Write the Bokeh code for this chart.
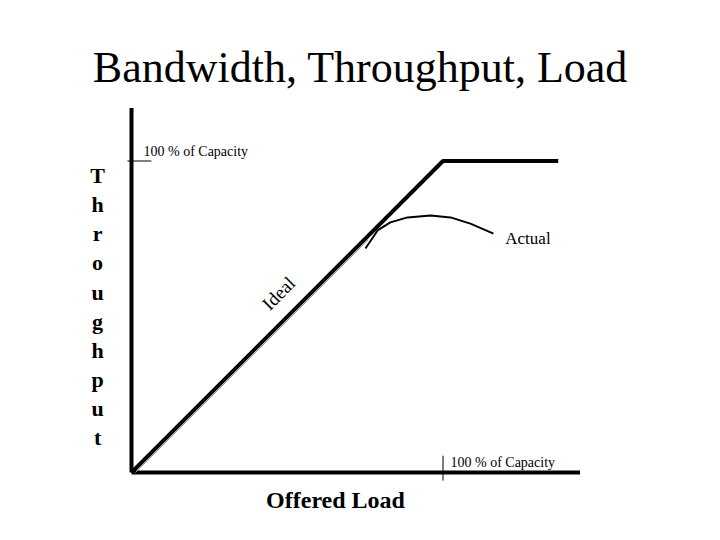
from bokeh.plotting import figure
from bokeh.models import Range1d
from bokeh.core.properties import value
from bokeh.embed import file_html
from bokeh.resources import INLINE

# ---- data (units: % of capacity) ----
ideal_x = [0, 100, 137]
ideal_y = [0, 100, 100]
actual_x = [75.1, 79.0, 83.1, 88.6, 96.0, 102.4, 108.8, 116.2]
actual_y = [71.9, 77.7, 80.3, 81.9, 82.5, 81.9, 79.9, 76.7]
x_axis_max = 144
y_axis_max = 117
capacity = 100
title_text = "Bandwidth, Throughput, Load"
y_label = "Throughput"
x_label = "Offered Load"
cap_label = "100 % of Capacity"

W, H = 704, 524
s = 3.115  # px per unit
ox, oy = 131, 472  # origin in plot pixels (from top-left)

p = figure(width=W, height=H, output_backend="svg", toolbar_location=None,
           x_range=Range1d(-ox / s, (W - ox) / s),
           y_range=Range1d(-(H - oy) / s, oy / s),
           min_border=0, outline_line_color=None)
p.axis.visible = False
p.grid.visible = False
p.background_fill_color = "white"

SERIF = value("Liberation Serif")

# axes
p.line([0, 0], [0, y_axis_max], line_color="black", line_width=4)
p.line([0, x_axis_max], [0, 0], line_color="black", line_width=4)

# ideal shadow
p.line([1.3, 76], [0, 74.7], line_color="#999999", line_width=1)
# ideal
p.line(ideal_x, ideal_y, line_color="black", line_width=4)
# actual
p.line(actual_x, actual_y, line_color="black", line_width=2)

# capacity ticks
p.line([-1.3, 6.4], [capacity, capacity], line_color="black", line_width=1)
p.line([capacity, capacity], [-2.6, 5.4], line_color="black", line_width=1)

# texts
p.text(x=[73.5], y=[130.0], text=[title_text], text_font=SERIF, text_font_size="44px",
       text_align="center", text_baseline="middle", text_color="black")
p.text(x=[3.85], y=[103.0], text=[cap_label], text_font=SERIF, text_font_size="14px",
       text_align="left", text_baseline="middle", text_color="black")
p.text(x=[102.4], y=[3.2], text=[cap_label], text_font=SERIF, text_font_size="14px",
       text_align="left", text_baseline="middle", text_color="black")
p.text(x=[120.0], y=[75.1], text=["Actual"], text_font=SERIF, text_font_size="17px",
       text_align="left", text_baseline="middle", text_color="black")
p.text(x=[47.2], y=[57.5], text=["Ideal"], text_font=SERIF, text_font_size="19px",
       angle=0.785398, text_align="center", text_baseline="middle", text_color="black")
p.text(x=[65.5], y=[-8.7], text=[x_label], text_font=SERIF, text_font_size="24px",
       text_font_style="bold", text_align="center", text_baseline="middle", text_color="black")

letters = list(y_label)
n = len(letters)
ys = [95.3 - i * (95.3 - 11.2) / (n - 1) for i in range(n)]
p.text(x=[-10.9] * n, y=ys, text=letters, text_font=SERIF, text_font_size="22px",
       text_font_style="bold", text_align="center", text_baseline="middle", text_color="black")

open("out.html", "w").write(file_html(p, INLINE))
